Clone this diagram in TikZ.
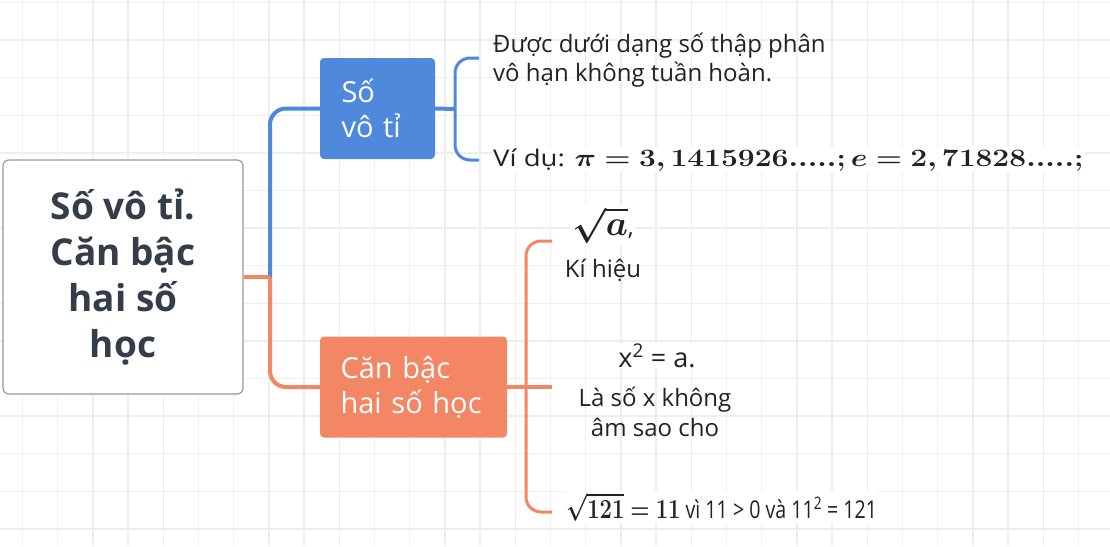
\RequirePackage{fix-cm}
\documentclass[tikz,border=0pt]{standalone}
\usepackage{amsmath,bm}
\usepackage[no-math]{fontspec}
\setmainfont{Open Sans}
\definecolor{svtblue}{HTML}{4E89DC}
\definecolor{cbhorange}{HTML}{F38664}
\definecolor{gridgray}{HTML}{EEEEEE}
\definecolor{roottext}{HTML}{333E4A}
\definecolor{leaftext}{HTML}{222222}
\tikzset{
  rootbox/.style={draw=black!40, line width=1.2pt, fill=white, rounded corners=6pt,
    minimum width=240pt, minimum height=234pt, align=center, text=roottext,
    font=\fontsize{37}{46}\selectfont\bfseries},
  branchbox/.style={rounded corners=4pt, text=white, align=left, minimum height=101pt,
    font=\fontsize{29}{35}\selectfont},
  leaf/.style={text=leaftext, font=\fontsize{24}{29.5}\selectfont, inner sep=1pt},
  blueline/.style={draw=svtblue, line width=4pt},
  orangeline/.style={draw=cbhorange, line width=4pt},
  bluebrace/.style={draw=svtblue, line width=3pt, rounded corners=15pt},
  orangebrace/.style={draw=cbhorange, line width=3pt, rounded corners=15pt},
  gridline/.style={draw=gridgray, line width=1.3pt}
}
\begin{document}
\begin{tikzpicture}[x=1pt,y=-1pt]
  \useasboundingbox (0,0) rectangle (1110,546);
  \fill[white] (0,0) rectangle (1110,546);
  % background grid
  \foreach \i in {0,...,31}
    \draw[gridline] (22.5+35.2*\i,0) -- (22.5+35.2*\i,546);
  \foreach \j in {0,...,14}
    \draw[gridline] (0,2.5+37.6*\j) -- (1110,2.5+37.6*\j);

  % main topic and branches
  \node[rootbox] (root) at (123,277) {Số vô tỉ.\\Căn bậc\\hai số\\học};
  \node[branchbox, fill=svtblue, text width=72pt, inner xsep=21.5pt] (svt) at (377.5,108.5) {Số\\vô tỉ};
  \node[branchbox, fill=cbhorange, text width=146pt, inner xsep=20.5pt] (cbh) at (413.5,387) {Căn bậc\\hai số học};

  \coordinate (fork) at (270,277);
  \draw[blueline, rounded corners=16pt] (fork) |- (svt.west);
  \draw[orangeline, rounded corners=16pt] (fork) |- (cbh.west);
  \draw[orangeline] (root.east) -- (fork);

  % leaves of "Số vô tỉ"
  \node[leaf, anchor=west, align=left] (def) at (492,60) {Được dưới dạng số thập phân\\vô hạn không tuần hoàn.};
  \node[leaf, anchor=base west, fill=white] (ex) at (492,166)
    {\scalebox{1.2}[1]{\fontsize{23}{26}\selectfont Ví dụ: {\fontsize{25}{30}\selectfont$\bm{\pi=3,1415926.....;e=2,71828.....;}$}}};

  \coordinate (bx) at (455,109);
  \coordinate (b1) at (479,58);
  \coordinate (b2) at (479,160);
  \draw[blueline] (svt.east) -- (bx);
  \draw[bluebrace] (b1) -| (bx) |- (b2);

  % leaves of "Căn bậc hai số học"
  \node[leaf, fill=white] (kh) at (603,225) {{\fontsize{35}{35}\selectfont$\bm{\sqrt{a}}$},};
  \node[leaf] (khlabel) at (603,270) {Kí hiệu};
  \node[leaf, fill=white, font=\fontsize{27}{30}\selectfont] (eq) at (657,356) {x\textsuperscript{2} = a.};
  \node[leaf, align=center] (defcbh) at (655,412) {Là số x không\\âm sao cho};
  \node[leaf, anchor=west, fill=white] (vd2) at (565,507)
    {\scalebox{0.8}[1]{{\fontsize{27.5}{28}\selectfont$\bm{\sqrt{121}=11}$} \fontsize{24.5}{26}\selectfont vì 11 > 0 và 11\textsuperscript{2} = 121}};

  \coordinate (ox) at (526,387);
  \coordinate (o1) at (552,241);
  \coordinate (o2) at (552,512);
  \draw[orangeline] (cbh.east) -- (o1 |- cbh.east);
  \draw[orangebrace] (o1) -| (ox) |- (o2);
\end{tikzpicture}
\end{document}
